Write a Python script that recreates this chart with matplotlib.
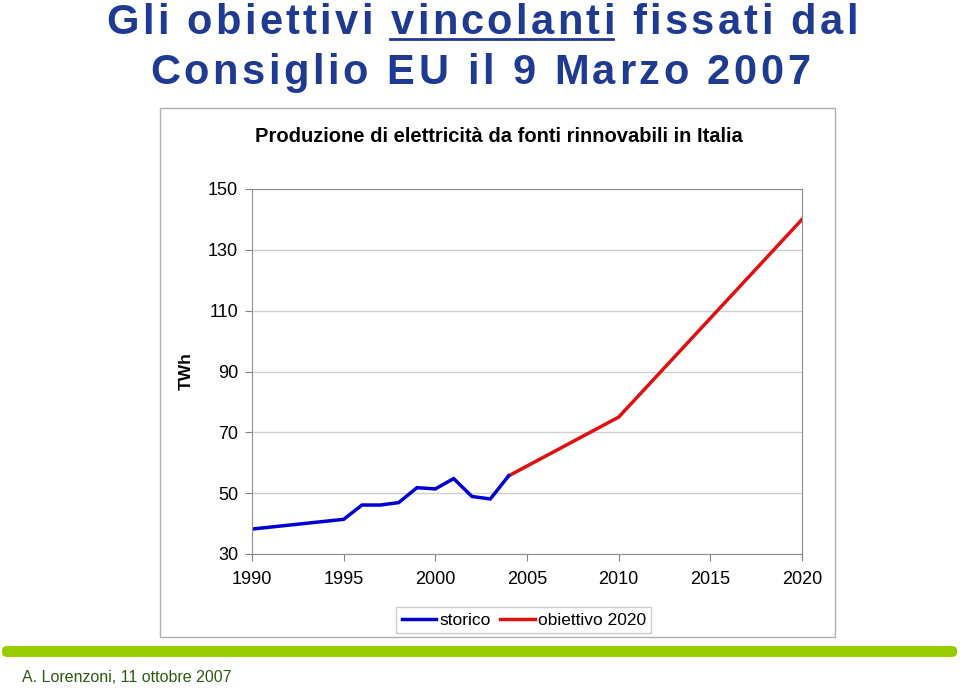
import matplotlib.pyplot as plt
from matplotlib.patches import Rectangle, FancyBboxPatch
from matplotlib.lines import Line2D

# data
anni_storico = [1990, 1995, 1996, 1997, 1998, 1999, 2000, 2001, 2002, 2003, 2004]
twh_storico = [38.2, 41.4, 46.1, 46.1, 46.9, 51.8, 51.4, 54.8, 48.9, 48.1, 55.7]
anni_obiettivo = [2004, 2010, 2020]
twh_obiettivo = [55.7, 75.0, 140.0]
x_ticks = [1990, 1995, 2000, 2005, 2010, 2015, 2020]
y_ticks = [30, 50, 70, 90, 110, 130, 150]

plt.rcParams['font.family'] = ['Liberation Sans', 'DejaVu Sans']

W, H = 960, 688
fig = plt.figure(figsize=(9.6, 6.88), dpi=100)
renderer = fig.canvas.get_renderer()


def spaced_text(s, xc, y_base, target_w, **kw):
    # draws s letter by letter, spread out so it is target_w pixels wide
    widths = [0.0]
    for i in range(1, len(s) + 1):
        t = fig.text(0, 0, s[:i], **kw)
        widths.append(t.get_window_extent(renderer).width)
        t.remove()
    gap = (target_w - widths[-1]) / (len(s) - 1)
    x0 = xc - target_w / 2
    xs = []
    for i, ch in enumerate(s):
        x = x0 + widths[i] + gap * i
        xs.append(x)
        fig.text(x / W, 1 - y_base / H, ch, ha='left', va='baseline', **kw)
    xs.append(x0 + widths[-1] + gap * (len(s) - 1))
    return xs


blu = '#1f3a93'
riga1 = 'Gli obiettivi vincolanti fissati dal'
xs = spaced_text(riga1, 482, 34, 751, fontsize=30, fontweight='bold', color=blu)
spaced_text('Consiglio EU il 9 Marzo 2007', 480, 84, 660, fontsize=30,
            fontweight='bold', color=blu)
i0 = riga1.index('vincolanti')
x_a = xs[i0]
x_b = xs[i0 + len('vincolanti')] - 4
fig.add_artist(Line2D([x_a / W, x_b / W], [1 - 39 / H, 1 - 39 / H], color=blu, lw=2))

# chart frame
fig.add_artist(Rectangle((160 / W, 1 - 637 / H), 675 / W, 529 / H,
                         facecolor='white', edgecolor='#b0b0b0', lw=1, zorder=-5))

fig.text(499 / W, 1 - 136 / H, 'Produzione di elettricità da fonti rinnovabili in Italia',
         ha='center', va='center', fontsize=14.5, fontweight='bold')

ax = fig.add_axes([252 / W, 1 - 554 / H, 550 / W, 365 / H])
ax.patch.set_alpha(0)
ax.plot(anni_obiettivo, twh_obiettivo, color='#e01010', lw=2.5, label='obiettivo 2020',
        solid_joinstyle='miter')
ax.plot(anni_storico, twh_storico, color='#0000d0', lw=2.5, label='storico',
        solid_joinstyle='miter')
ax.set_xlim(1990, 2020)
ax.set_ylim(30, 150)
ax.set_xticks(x_ticks)
ax.set_yticks(y_ticks)
ax.tick_params(labelsize=13, length=5, color='#808080')
ax.tick_params(axis='x', pad=7)
ax.tick_params(axis='y', pad=5)
ax.grid(axis='y', color='#d0d0d0', lw=1)
ax.set_axisbelow(True)
for s in ax.spines.values():
    s.set_color('#909090')
ax.set_ylabel('TWh', fontsize=12.5, fontweight='bold', labelpad=10)

h, l = ax.get_legend_handles_labels()
leg = ax.legend(h[::-1], l[::-1], loc='center', bbox_to_anchor=(0.4945, -0.181), ncol=2,
                fontsize=12.5, frameon=True, fancybox=False, handlelength=2.0,
                handletextpad=0.2, columnspacing=0.5, borderpad=0.3, borderaxespad=0)
leg.get_frame().set_edgecolor('#c0c0c0')
leg.get_frame().set_linewidth(1)

# green band and footer
fig.add_artist(FancyBboxPatch((2 / W, 1 - 657 / H), 955 / W, 11 / H,
                              boxstyle='round,pad=0,rounding_size=0.006',
                              facecolor='#99cc00', edgecolor='none'))
fig.text(22 / W, 1 - 677 / H, 'A. Lorenzoni, 11 ottobre 2007', ha='left', va='center',
         fontsize=11.5, color='#2e5a12')

fig.savefig('out.png', dpi=100)
